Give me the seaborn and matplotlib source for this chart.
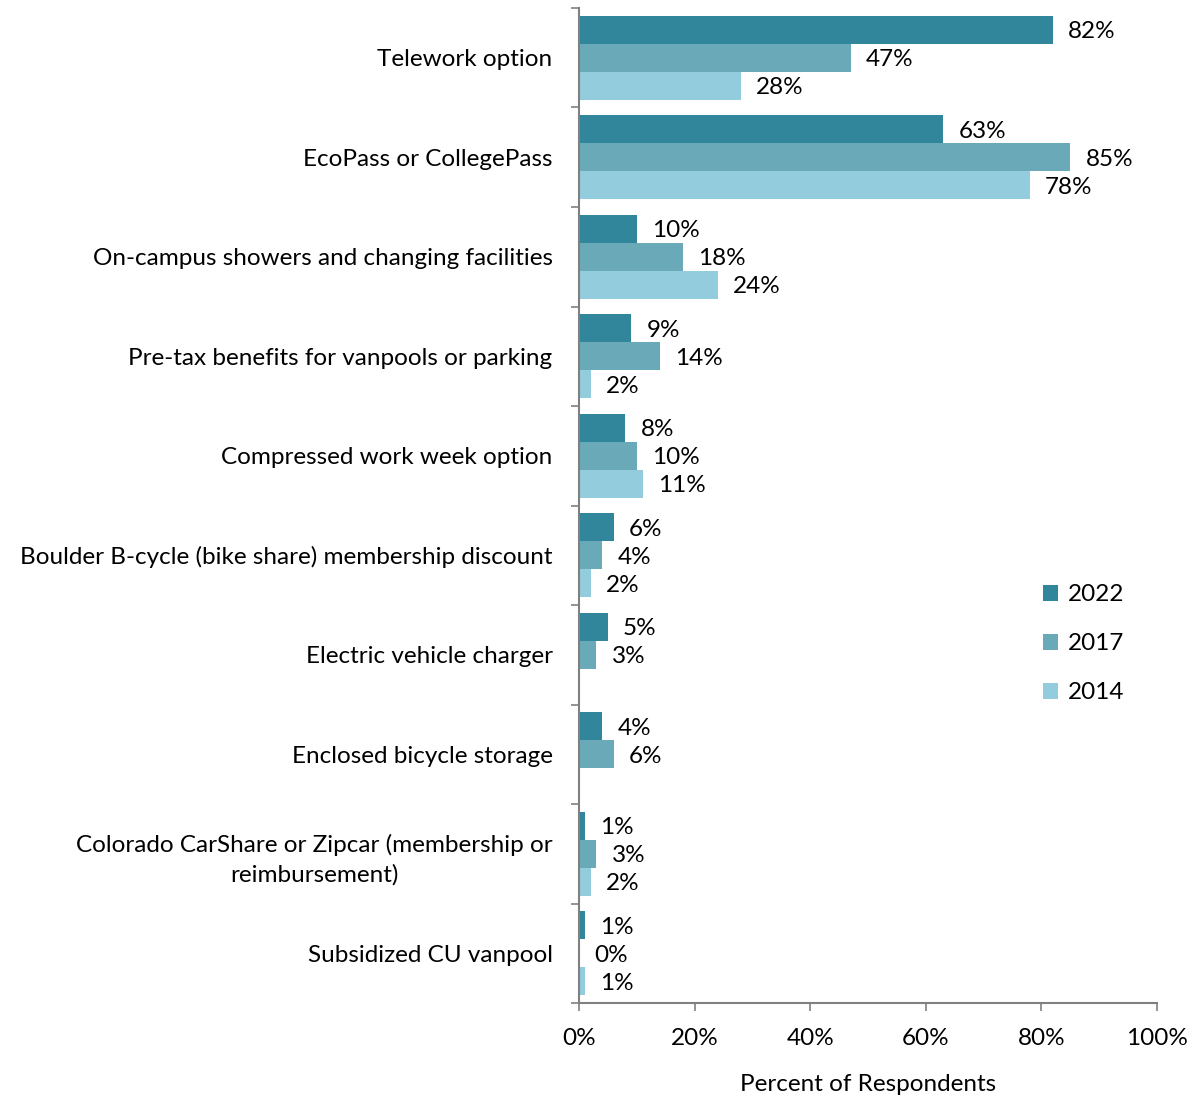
import numpy as np
import pandas as pd
import matplotlib
matplotlib.use('Agg')
import matplotlib.pyplot as plt
import seaborn as sns

categories = ['Telework option', 'EcoPass or CollegePass',
              'On-campus showers and changing facilities',
              'Pre-tax benefits for vanpools or parking',
              'Compressed work week option',
              'Boulder B-cycle (bike share) membership discount',
              'Electric vehicle charger', 'Enclosed bicycle storage',
              'Colorado CarShare or Zipcar (membership or\nreimbursement)',
              'Subsidized CU vanpool']
years = ['2022', '2017', '2014']
vals_2022 = [82, 63, 10, 9, 8, 6, 5, 4, 1, 1]
vals_2017 = [47, 85, 18, 14, 10, 4, 3, 6, 3, 0]
vals_2014 = [28, 78, 24, 2, 11, 2, np.nan, np.nan, 2, 1]
colors = ['#31869B', '#6AAAB8', '#93CDDD']
x_ticks = [0, 20, 40, 60, 80, 100]

sns.set_style('white')
plt.rcParams['font.family'] = ['Lato', 'DejaVu Sans']
plt.rcParams['text.color'] = 'black'
plt.rcParams['axes.labelcolor'] = 'black'
plt.rcParams['xtick.labelcolor'] = 'black'
plt.rcParams['ytick.labelcolor'] = 'black'
fs = 17.5

df = pd.DataFrame({'category': categories * 3,
                   'year': sum([[y] * len(categories) for y in years], []),
                   'value': vals_2022 + vals_2017 + vals_2014})

fig = plt.figure(figsize=(11.91, 10.95), dpi=100)
ax = fig.add_axes([0.4861, 0.0840, 0.9715 - 0.4861, 0.9927 - 0.0840])

sns.barplot(data=df.dropna(), x='value', y='category', hue='year',
            order=categories, hue_order=years, palette=colors,
            saturation=1, linewidth=0, width=0.84, orient='h', ax=ax,
            legend=True)

# value labels
for year, cont in zip(years, ax.containers):
    for bar in cont:
        w = bar.get_width()
        if np.isnan(w):
            continue
        ax.annotate('{:.0f}%'.format(w),
                    (w, bar.get_y() + bar.get_height() / 2),
                    xytext=(11, -1.5), textcoords='offset points',
                    ha='left', va='center', fontsize=fs, color='black')

ax.set_xlim(0, 100)
ax.set_ylim(len(categories) - 0.5, -0.5)
ax.set_xticks(x_ticks)
ax.set_xticklabels(['{}%'.format(t) for t in x_ticks], fontsize=fs)
ax.set_yticks(range(len(categories)))
ax.set_yticklabels(categories, fontsize=fs, multialignment='center',
                   linespacing=1.45)
ax.set_yticks(np.arange(-0.5, len(categories)), minor=True)
ax.tick_params(axis='y', which='major', length=0, pad=19)
ax.tick_params(axis='y', which='minor', length=6, color='#808080', width=1.2)
ax.tick_params(axis='x', length=6, color='#808080', width=1.2, direction='out', pad=12)
ax.xaxis.set_ticks_position('bottom')
ax.yaxis.set_ticks_position('left')
ax.set_ylabel('')
ax.set_xlabel('Percent of Respondents', fontsize=fs, labelpad=18)

for s in ['top', 'right']:
    ax.spines[s].set_visible(False)
for s in ['left', 'bottom']:
    ax.spines[s].set_color('#808080')
    ax.spines[s].set_linewidth(1.5)

handles, labels = ax.get_legend_handles_labels()
ax.legend(handles, labels, loc='center left', bbox_to_anchor=(0.857, 0.412),
          bbox_transform=fig.transFigure, frameon=False, fontsize=fs,
          handlelength=0.65, handleheight=0.65, labelspacing=1.15, handletextpad=0.4)

fig.savefig('out.png', dpi=100)
